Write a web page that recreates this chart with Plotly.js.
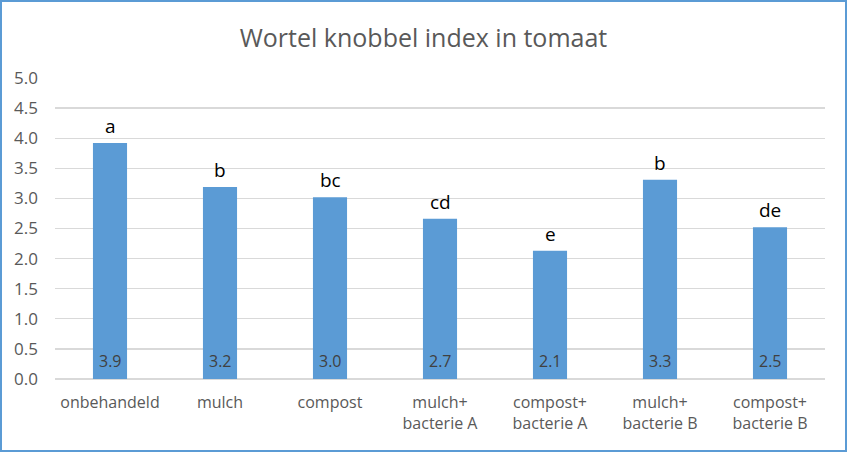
<!DOCTYPE html>
<html><head><meta charset="utf-8">
<script src="https://cdn.plot.ly/plotly-3.0.1.min.js"></script>
<style>
html,body{margin:0;padding:0;background:#fff;}
#wrap{position:relative;width:847px;height:452px;}
#chart{position:absolute;left:0;top:0;width:847px;height:452px;}
#frame{position:absolute;left:0;top:0;width:847px;height:452px;box-sizing:border-box;border:2px solid #5B9BD5;pointer-events:none;}
</style></head>
<body>
<div id="wrap"><div id="chart"></div><div id="frame"></div></div>
<script>
const categories = ["onbehandeld","mulch","compost","mulch+<br>bacterie A","compost+<br>bacterie A","mulch+<br>bacterie B","compost+<br>bacterie B"];
const values = [3.92, 3.19, 3.02, 2.66, 2.13, 3.31, 2.52];
const letters = ["a","b","bc","cd","e","b","de"];
const yTicks = [0,0.5,1,1.5,2,2.5,3,3.5,4,4.5,5];

const font = "Open Sans, Noto Sans, sans-serif";
const annotations = [];
categories.forEach((c,i)=>{
  annotations.push({x:c, y:values[i], xref:'x', yref:'y', text:letters[i], showarrow:false,
    yanchor:'bottom', yshift:2, font:{family:font, size:19, color:'#000000'}});
  annotations.push({x:c, y:0, xref:'x', yref:'y', text:values[i].toFixed(1), showarrow:false,
    yanchor:'bottom', yshift:5, font:{family:font, size:16, color:'#404040'}});
});

Plotly.newPlot('chart', [{
  type:'bar', x:categories, y:values, width:0.31,
  marker:{color:'#5B9BD5'}, hoverinfo:'none'
}], {
  width:847, height:452,
  margin:{l:55, r:22, t:78, b:73},
  paper_bgcolor:'#ffffff', plot_bgcolor:'#ffffff',
  title:{text:'Wortel knobbel index in tomaat', x:0.5, xanchor:'center', y:0.915, yanchor:'middle',
    font:{family:font, size:25, color:'#595959'}},
  xaxis:{tickfont:{family:font, size:16, color:'#595959'}, showline:false, ticks:'', ticklabelstandoff:12, automargin:false},
  yaxis:{range:[0,5], tickvals:yTicks, tickformat:'.1f', gridcolor:'#D9D9D9', gridwidth:1.3,
    zeroline:true, zerolinecolor:'#D9D9D9', zerolinewidth:1.3, showline:false, ticks:'', ticklabelstandoff:16,
    tickfont:{family:font, size:17, color:'#595959'}, automargin:false},
  annotations:annotations,
  showlegend:false
}, {staticPlot:true});
</script>
</body></html>
